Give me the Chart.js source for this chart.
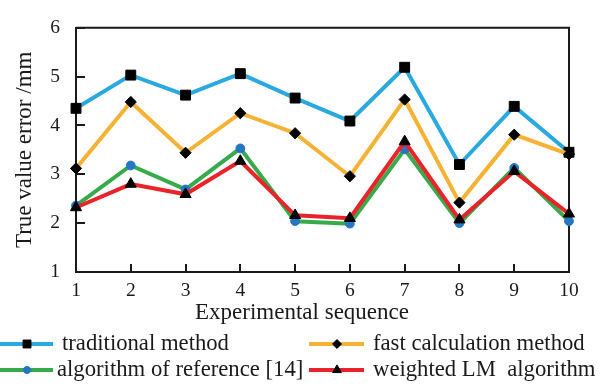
<!DOCTYPE html>
<html><head><meta charset="utf-8">
<script src="https://cdn.jsdelivr.net/npm/chart.js@4/dist/chart.umd.min.js"></script>
<style>html,body{margin:0;padding:0;background:#fff}#wrap{width:604px;height:384px;position:relative}</style>
</head><body><div id="wrap"><canvas id="c" width="604" height="384" style="width:604px;height:384px"></canvas></div>
<script>
const categories = ['1','2','3','4','5','6','7','8','9','10'];
const traditional = [4.35,5.03,4.62,5.06,4.56,4.09,5.19,3.20,4.39,3.45];
const fastCalc    = [3.12,4.48,3.44,4.25,3.84,2.96,4.53,2.42,3.81,3.41];
const reference14 = [2.36,3.18,2.69,3.53,2.04,1.99,3.51,2.00,3.13,2.04];
const weightedLM  = [2.32,2.80,2.59,3.27,2.16,2.10,3.67,2.07,3.06,2.19];
const seriesNames = ['traditional method','fast calculation method','algorithm of reference [14]','weighted LM  algorithm'];
const xTitle = 'Experimental sequence';
const yTitle = 'True value error /mm';
const yMin = 1, yMax = 6, yStep = 1;

const FONT = "'Liberation Serif', 'Times New Roman', serif";
const INK = '#1a1a1a';

const legendPos = [
  {x0:0,x1:53,m:27,tx:62,y:344},
  {x0:309,x1:364,m:337,tx:373,y:344},
  {x0:0,x1:53,m:27,tx:57,y:370},
  {x0:309,x1:364,m:337,tx:373,y:370}
];

const framePlugin = {
  id:'frame',
  beforeDatasetsDraw(chart){
    const {ctx, chartArea:a, scales:{x,y}} = chart;
    ctx.save();
    ctx.strokeStyle = INK; ctx.lineWidth = 2;
    ctx.beginPath();
    ctx.moveTo(a.left, a.top); ctx.lineTo(a.right, a.top); ctx.lineTo(a.right, a.bottom);
    x.ticks.forEach((t,i)=>{ const px = Math.round(x.getPixelForTick(i)); ctx.moveTo(px, a.bottom); ctx.lineTo(px, a.bottom-8); });
    y.ticks.forEach((t,i)=>{ const py = Math.round(y.getPixelForTick(i)); ctx.moveTo(a.left, py); ctx.lineTo(a.left+9, py); });
    ctx.stroke();
    ctx.restore();
  },
  afterDraw(chart){
    const {ctx} = chart;
    ctx.save();
    ctx.fillStyle = INK;
    ctx.font = "23px " + FONT;
    ctx.textAlign = 'center'; ctx.textBaseline = 'middle';
    ctx.fillText(xTitle, 302, 313);
    chart.data.datasets.forEach((ds,i)=>{
      const p = legendPos[i];
      ctx.strokeStyle = ds.borderColor; ctx.lineWidth = 4;
      ctx.beginPath(); ctx.moveTo(p.x0,p.y); ctx.lineTo(p.x1,p.y); ctx.stroke();
      ctx.fillStyle = ds.pointBackgroundColor; ctx.strokeStyle = ds.pointBorderColor; ctx.lineWidth = 1;
      Chart.helpers.drawPoint(ctx, {pointStyle: ds.pointStyle, rotation:0, borderWidth:1, radius: ds.pointRadius*0.8}, p.m, p.y);
      ctx.fillStyle = INK;
      ctx.textAlign = 'left'; ctx.textBaseline = 'middle';
      ctx.font = "22.7px " + FONT;
      ctx.fillText(ds.label, p.tx, p.y);
    });
    ctx.restore();
  }
};

function mk(label, data, color, style, radius, ptColor, order){
  return {label, data, borderColor: color, backgroundColor: color, borderWidth: 4,
    pointStyle: style, pointRadius: radius, pointHoverRadius: radius,
    pointBackgroundColor: ptColor, pointBorderColor: ptColor, pointBorderWidth: 1,
    tension: 0, fill: false, clip: false, order};
}

const chart = new Chart(document.getElementById('c'), {
  type:'line',
  data:{
    labels: categories,
    datasets:[
      mk(seriesNames[0], traditional, '#2aa8e0', 'rect', 7, '#000', 3),
      mk(seriesNames[1], fastCalc, '#f5b234', 'rectRot', 5.6, '#000', 2),
      mk(seriesNames[2], reference14, '#37aa4b', 'circle', 4.4, '#2676c4', 1),
      mk(seriesNames[3], weightedLM, '#e8232a', 'triangle', 6.4, '#000', 0)
    ]
  },
  options:{
    responsive:false, animation:false, devicePixelRatio:1,
    layout:{padding:{top:14,right:35,left:0,bottom:0}},
    plugins:{legend:{display:false}, tooltip:{enabled:false}},
    scales:{
      x:{
        type:'category', offset:false,
        grid:{display:false, drawTicks:false},
        border:{display:true, color:INK, width:2},
        ticks:{color:INK, font:{family:FONT, size:19.5}, padding:7, maxRotation:0, autoSkip:false},
        title:{display:false},
        afterFit(s){ s.height = 112; }
      },
      y:{
        min:yMin, max:yMax,
        grid:{display:false, drawTicks:false},
        border:{display:true, color:INK, width:2},
        ticks:{stepSize:yStep, color:INK, font:{family:FONT, size:19.5}, padding:16},
        title:{display:true, text:yTitle, color:INK, font:{family:FONT, size:23}, padding:{top:11,bottom:0}},
        afterFit(s){ s.width = 76; }
      }
    }
  },
  plugins:[framePlugin]
});
</script>
</body></html>
